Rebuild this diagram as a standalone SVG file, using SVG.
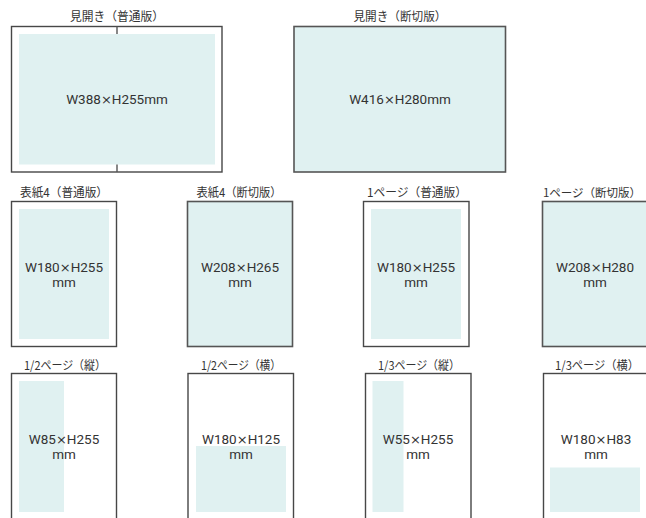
<svg xmlns="http://www.w3.org/2000/svg" width="646" height="518" viewBox="0 0 646 518">
<style>
.box{fill:#fff;stroke:#474747;stroke-width:1.4}
.bleed{fill:#e0f1f1;stroke:#555;stroke-width:1.6}
.area{fill:#e0f1f1}
.fold{stroke:#555;stroke-width:1.4}
.title{font-family:"Noto Sans CJK JP","Noto Sans",sans-serif;font-size:12px;fill:#333;text-anchor:middle}
.size{font-family:Roboto,"Liberation Sans",sans-serif;font-size:13.5px;fill:#333;text-anchor:middle}
.x{font-family:"DejaVu Sans",sans-serif;font-size:13px}
</style>
<rect width="646" height="518" fill="#fff"/>
<g id="connectors"/>
<g id="spread-normal">
<text class="title" x="117" y="21" textLength="94" lengthAdjust="spacingAndGlyphs">見開き（普通版）</text>
<rect class="box" x="11.5" y="26.5" width="210.5" height="145.5"/>
<rect class="area" x="19" y="34" width="196" height="130.5"/>
<line class="fold" x1="117" y1="26.5" x2="117" y2="34"/>
<line class="fold" x1="117" y1="164.5" x2="117" y2="172"/>
<text class="size" x="117" y="104">W388<tspan class="x">×</tspan>H255mm</text>
</g>
<g id="spread-bleed">
<text class="title" x="400" y="21" textLength="93" lengthAdjust="spacingAndGlyphs">見開き（断切版）</text>
<rect class="bleed" x="294" y="26.5" width="211.5" height="145.5"/>
<text class="size" x="400" y="104">W416<tspan class="x">×</tspan>H280mm</text>
</g>
<g id="cover4-normal">
<text class="title" x="64" y="197" textLength="88" lengthAdjust="spacingAndGlyphs">表紙4（普通版）</text>
<rect class="box" x="11.5" y="201.5" width="105" height="145"/>
<rect class="area" x="19" y="209" width="90" height="130"/>
<text class="size" x="64" y="271.5">W180<tspan class="x">×</tspan>H255</text>
<text class="size" x="64" y="286.5">mm</text>
</g>
<g id="cover4-bleed">
<text class="title" x="239" y="197" textLength="85" lengthAdjust="spacingAndGlyphs">表紙4（断切版）</text>
<rect class="bleed" x="187.5" y="201.5" width="105" height="145"/>
<text class="size" x="240" y="271.5">W208<tspan class="x">×</tspan>H265</text>
<text class="size" x="240" y="286.5">mm</text>
</g>
<g id="page1-normal">
<text class="title" x="417" y="197" textLength="100" lengthAdjust="spacingAndGlyphs">1ページ（普通版）</text>
<rect class="box" x="363.5" y="201.5" width="105.5" height="145"/>
<rect class="area" x="371" y="209" width="90" height="130"/>
<text class="size" x="416" y="271.5">W180<tspan class="x">×</tspan>H255</text>
<text class="size" x="416" y="286.5">mm</text>
</g>
<g id="page1-bleed">
<text class="title" x="592" y="197" style="font-size:11.5px">1ページ（断切版）</text>
<rect class="bleed" x="542.5" y="201.5" width="106" height="145"/>
<text class="size" x="595" y="271.5">W208<tspan class="x">×</tspan>H280</text>
<text class="size" x="595" y="286.5">mm</text>
</g>
<g id="half-vertical">
<text class="title" x="65" y="370" textLength="82" lengthAdjust="spacingAndGlyphs">1/2ページ（縦）</text>
<rect class="box" x="11.5" y="373.5" width="105" height="160"/>
<rect class="area" x="19" y="381" width="45" height="131"/>
<text class="size" x="64" y="444">W85<tspan class="x">×</tspan>H255</text>
<text class="size" x="64" y="459">mm</text>
</g>
<g id="half-horizontal">
<text class="title" x="241" y="370" textLength="80" lengthAdjust="spacingAndGlyphs">1/2ページ（横）</text>
<rect class="box" x="188" y="373.5" width="105.5" height="160"/>
<rect class="area" x="196" y="446" width="90" height="66"/>
<text class="size" x="241" y="444">W180<tspan class="x">×</tspan>H125</text>
<text class="size" x="241" y="459">mm</text>
</g>
<g id="third-vertical">
<text class="title" x="419" y="370" textLength="82" lengthAdjust="spacingAndGlyphs">1/3ページ（縦）</text>
<rect class="box" x="365.5" y="373.5" width="105.5" height="160"/>
<rect class="area" x="372.5" y="381" width="31" height="131"/>
<text class="size" x="418" y="444">W55<tspan class="x">×</tspan>H255</text>
<text class="size" x="418" y="459">mm</text>
</g>
<g id="third-horizontal">
<text class="title" x="597" y="370" textLength="84" lengthAdjust="spacingAndGlyphs">1/3ページ（横）</text>
<rect class="box" x="543.5" y="373.5" width="106" height="160"/>
<rect class="area" x="550" y="467.5" width="90" height="44.5"/>
<text class="size" x="596" y="444">W180<tspan class="x">×</tspan>H83</text>
<text class="size" x="596" y="459">mm</text>
</g>
</svg>
